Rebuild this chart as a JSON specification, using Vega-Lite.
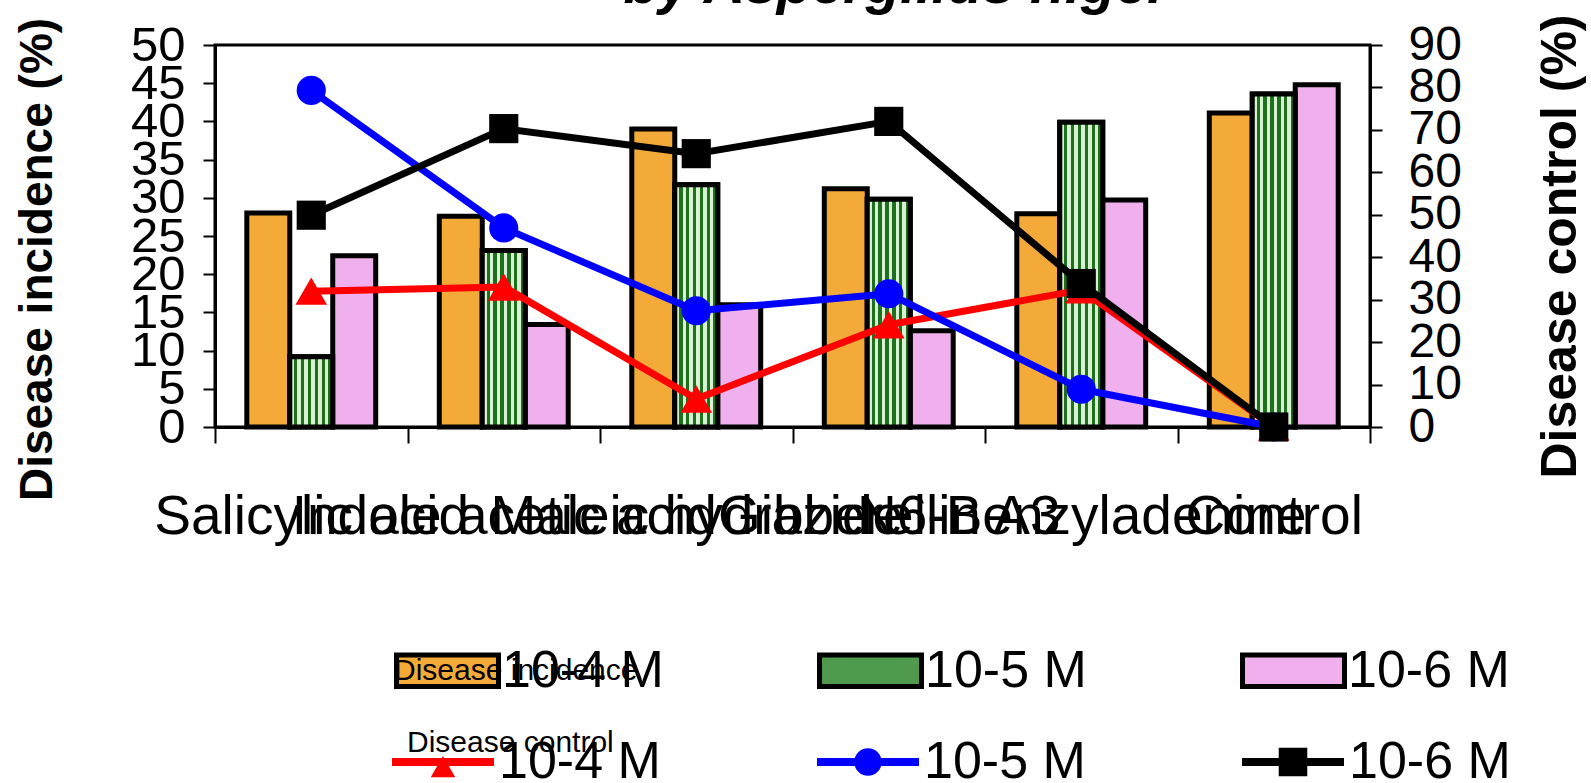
{
  "$schema": "https://vega.github.io/schema/vega-lite/v6.json",
  "autosize": {"type": "none"},
  "padding": {"left": 215, "top": 45, "right": 221, "bottom": 356},
  "width": 1155,
  "height": 382,
  "background": "white",
  "config": {
    "font": "Liberation Sans",
    "view": {"stroke": "black", "strokeWidth": 3},
    "axis": {"grid": false, "domainColor": "black", "domainWidth": 3, "tickColor": "black", "tickWidth": 2, "labelColor": "black", "titleColor": "black", "labelFont": "Liberation Sans", "titleFont": "Liberation Sans"},
    "legend": {"gridAlign": "each", "titleLimit": 0, "labelLimit": 0}
  },
  "title": {
    "text": "by Aspergillus niger",
    "fontSize": 57,
    "fontWeight": "bold",
    "fontStyle": "italic",
    "color": "black",
    "anchor": "middle",
    "frame": "group",
    "baseline": "alphabetic",
    "offset": 0,
    "dy": 46,
    "dx": 104
  },
  "datasets": {
    "bars": [
      {"cat": "Salicylic acid", "series": "10-4 M", "incidence": 28.0},
      {"cat": "Salicylic acid", "series": "10-5 M", "incidence": 9.2},
      {"cat": "Salicylic acid", "series": "10-6 M", "incidence": 22.4},
      {"cat": "Indole acetic acid", "series": "10-4 M", "incidence": 27.6},
      {"cat": "Indole acetic acid", "series": "10-5 M", "incidence": 23.1},
      {"cat": "Indole acetic acid", "series": "10-6 M", "incidence": 13.4},
      {"cat": "Maleic hydrazide", "series": "10-4 M", "incidence": 39.0},
      {"cat": "Maleic hydrazide", "series": "10-5 M", "incidence": 31.7},
      {"cat": "Maleic hydrazide", "series": "10-6 M", "incidence": 16.0},
      {"cat": "Gibberellin A3", "series": "10-4 M", "incidence": 31.2},
      {"cat": "Gibberellin A3", "series": "10-5 M", "incidence": 29.8},
      {"cat": "Gibberellin A3", "series": "10-6 M", "incidence": 12.6},
      {"cat": "N6-Benzyladenine", "series": "10-4 M", "incidence": 27.9},
      {"cat": "N6-Benzyladenine", "series": "10-5 M", "incidence": 39.9},
      {"cat": "N6-Benzyladenine", "series": "10-6 M", "incidence": 29.7},
      {"cat": "Control", "series": "10-4 M", "incidence": 41.1},
      {"cat": "Control", "series": "10-5 M", "incidence": 43.6},
      {"cat": "Control", "series": "10-6 M", "incidence": 44.8}
    ],
    "lines": [
      {"cat": "Salicylic acid", "dose": "10-4", "control": 32.0},
      {"cat": "Indole acetic acid", "dose": "10-4", "control": 33.0},
      {"cat": "Maleic hydrazide", "dose": "10-4", "control": 6.6},
      {"cat": "Gibberellin A3", "dose": "10-4", "control": 24.1},
      {"cat": "N6-Benzyladenine", "dose": "10-4", "control": 32.3},
      {"cat": "Control", "dose": "10-4", "control": 0},
      {"cat": "Salicylic acid", "dose": "10-5", "control": 79.3},
      {"cat": "Indole acetic acid", "dose": "10-5", "control": 46.9},
      {"cat": "Maleic hydrazide", "dose": "10-5", "control": 27.4},
      {"cat": "Gibberellin A3", "dose": "10-5", "control": 31.4},
      {"cat": "N6-Benzyladenine", "dose": "10-5", "control": 8.9},
      {"cat": "Control", "dose": "10-5", "control": 0},
      {"cat": "Salicylic acid", "dose": "10-6", "control": 49.9},
      {"cat": "Indole acetic acid", "dose": "10-6", "control": 70.3},
      {"cat": "Maleic hydrazide", "dose": "10-6", "control": 64.4},
      {"cat": "Gibberellin A3", "dose": "10-6", "control": 72.0},
      {"cat": "N6-Benzyladenine", "dose": "10-6", "control": 33.8},
      {"cat": "Control", "dose": "10-6", "control": 0}
    ]
  },
  "layer": [
    {
      "data": {"name": "bars"},
      "layer": [
        {
          "mark": {"type": "bar", "stroke": "black", "strokeWidth": 5, "strokeJoin": "miter"},
          "encoding": {
            "x": {
              "field": "cat", "type": "nominal",
              "scale": {"domain": ["Salicylic acid", "Indole acetic acid", "Maleic hydrazide", "Gibberellin A3", "N6-Benzyladenine", "Control"], "paddingInner": 0, "paddingOuter": 0},
              "axis": {"title": null, "labelAngle": 0, "labelFontSize": 55, "labelLimit": 0, "labelOverlap": false, "labelPadding": 47, "tickSize": 16, "tickBand": "extent", "labelFlush": false}
            },
            "xOffset": {"field": "series", "type": "nominal", "scale": {"domain": ["10-4 M", "10-5 M", "10-6 M"], "paddingInner": 0, "paddingOuter": 0.74}},
            "y": {
              "field": "incidence", "type": "quantitative",
              "scale": {"domain": [0, 50], "nice": false},
              "axis": {"orient": "left", "values": [0, 5, 10, 15, 20, 25, 30, 35, 40, 45, 50], "labelFontSize": 49, "labelOverlap": false, "labelFlush": false, "tickSize": 12, "labelPadding": 18, "title": "Disease incidence (%)", "titleFontSize": 46, "titleFontWeight": "bold", "titleAngle": -90, "titleX": -178, "titleY": 214, "titleAlign": "center", "titleBaseline": "middle"}
            },
            "fill": {
              "field": "series", "type": "nominal",
              "scale": {"domain": ["10-4 M", "10-5 M", "10-6 M"], "range": ["#F3AA38", "#4F9A4C", "#F0B0EE"]},
              "legend": {
                "title": "Disease incidence",
                "orient": "none", "legendX": 179, "legendY": 611,
                "direction": "horizontal", "columns": 3, "columnPadding": 145,
                "padding": 0,
                "symbolType": "M-1,-0.31H1V0.31H-1Z", "symbolSize": 10400,
                "symbolStrokeColor": "black", "symbolStrokeWidth": 5,
                "labelFontSize": 52, "labelColor": "black", "labelOffset": 1, "labelLimit": 0,
                "titleFontSize": 30, "titleFontWeight": "normal", "titleColor": "black", "titlePadding": -69, "titleAnchor": "start", "titleLimit": 0,
                "encode": {
                  "symbols": {"update": {
                    "stroke": {"value": "black"},
                    "strokeWidth": {"value": 5},
                    "size": {"value": 10400},
                    "shape": {"value": "M-1,-0.31H1V0.31H-1Z"},
                    "opacity": {"value": 1}
                  }}
                }
              }
            }
          }
        },
        {
          "transform": [{"filter": "datum.series === '10-5 M'"}],
          "mark": {
            "type": "bar", "stroke": "black", "strokeWidth": 5, "strokeJoin": "miter",
            "fill": {"gradient": "linear", "x1": 0, "y1": 0, "x2": 1, "y2": 0, "stops": [
              {"offset": 0, "color": "#d6f2d0"}, {"offset": 0.1, "color": "#d6f2d0"}, {"offset": 0.1, "color": "#1f6f1f"}, {"offset": 0.18, "color": "#1f6f1f"},
              {"offset": 0.18, "color": "#d6f2d0"}, {"offset": 0.26, "color": "#d6f2d0"}, {"offset": 0.26, "color": "#1f6f1f"}, {"offset": 0.34, "color": "#1f6f1f"},
              {"offset": 0.34, "color": "#d6f2d0"}, {"offset": 0.42, "color": "#d6f2d0"}, {"offset": 0.42, "color": "#1f6f1f"}, {"offset": 0.5, "color": "#1f6f1f"},
              {"offset": 0.5, "color": "#d6f2d0"}, {"offset": 0.58, "color": "#d6f2d0"}, {"offset": 0.58, "color": "#1f6f1f"}, {"offset": 0.66, "color": "#1f6f1f"},
              {"offset": 0.66, "color": "#d6f2d0"}, {"offset": 0.74, "color": "#d6f2d0"}, {"offset": 0.74, "color": "#1f6f1f"}, {"offset": 0.82, "color": "#1f6f1f"},
              {"offset": 0.82, "color": "#d6f2d0"}, {"offset": 0.9, "color": "#d6f2d0"}, {"offset": 0.9, "color": "#1f6f1f"}, {"offset": 1, "color": "#1f6f1f"}
            ]}
          },
          "encoding": {
            "x": {
              "field": "cat", "type": "nominal",
              "axis": {"title": null, "labelAngle": 0, "labelFontSize": 55, "labelLimit": 0, "labelOverlap": false, "labelPadding": 47, "tickSize": 16, "tickBand": "extent", "labelFlush": false}
            },
            "xOffset": {"field": "series", "type": "nominal"},
            "y": {
              "field": "incidence", "type": "quantitative",
              "axis": {"orient": "left", "values": [0, 5, 10, 15, 20, 25, 30, 35, 40, 45, 50], "labelFontSize": 49, "labelOverlap": false, "labelFlush": false, "tickSize": 12, "labelPadding": 18, "title": "Disease incidence (%)", "titleFontSize": 46, "titleFontWeight": "bold", "titleAngle": -90, "titleX": -178, "titleY": 214, "titleAlign": "center", "titleBaseline": "middle"}
            }
          }
        }
      ]
    },
    {
      "data": {"name": "lines"},
      "layer": [
        {
          "mark": {"type": "line", "strokeWidth": 7, "strokeJoin": "round", "strokeCap": "round"},
          "encoding": {
            "x": {"field": "cat", "type": "nominal"},
            "y": {
              "field": "control", "type": "quantitative",
              "scale": {"domain": [0, 90], "nice": false},
              "axis": {"orient": "right", "values": [0, 10, 20, 30, 40, 50, 60, 70, 80, 90], "labelFontSize": 48, "labelOverlap": false, "labelFlush": false, "tickSize": 12, "labelPadding": 26, "title": "Disease control (%)", "titleFontSize": 50, "titleFontWeight": "bold", "titleAngle": -90, "titleX": 190, "titleY": 201, "titleAlign": "center", "titleBaseline": "middle"}
            },
            "color": {
              "field": "dose", "type": "nominal",
              "scale": {"domain": ["10-4", "10-5", "10-6"], "range": ["#FF0000", "#0000FF", "#000000"]},
              "legend": {
                "title": "Disease control",
                "orient": "none", "legendX": 177, "legendY": 683,
                "direction": "horizontal", "columns": 3, "columnPadding": 156,
                "padding": 0,
                "symbolSize": 10400,
                "labelExpr": "datum.label + ' M'",
                "labelFontSize": 52, "labelColor": "black", "labelOffset": 5, "labelLimit": 0,
                "titleFontSize": 30, "titleFontWeight": "normal", "titleColor": "black", "titlePadding": -47, "titleAnchor": "start", "titleLimit": 0,
                "encode": {
                  "title": {"update": {"dx": {"value": 15}}},
                  "symbols": {"update": {
                    "shape": {"signal": "datum.value === '10-4' ? 'M-1,-0.08H1V0.08H-1Z M0,-0.12L0.24,0.3L-0.24,0.3Z' : datum.value === '10-5' ? 'M-1,-0.08H1V0.08H-1Z M-0.27,0A0.27,0.27 0 1,1 0.27,0A0.27,0.27 0 1,1 -0.27,0Z' : 'M-1,-0.08H1V0.08H-1Z M-0.28,-0.28H0.28V0.28H-0.28Z'"},
                    "fill": {"signal": "scale('color', datum.value)"},
                    "stroke": {"value": null},
                    "strokeWidth": {"value": 0},
                    "size": {"value": 10400},
                    "opacity": {"value": 1}
                  }}
                }
              }
            }
          }
        },
        {
          "transform": [{"filter": "datum.dose === '10-4'"}],
          "mark": {"type": "point", "shape": "triangle-up", "filled": true, "opacity": 1, "size": 1000, "strokeWidth": 0},
          "encoding": {
            "x": {"field": "cat", "type": "nominal"},
            "y": {"field": "control", "type": "quantitative"},
            "color": {"field": "dose", "type": "nominal"}
          }
        },
        {
          "transform": [{"filter": "datum.dose === '10-5'"}],
          "mark": {"type": "point", "shape": "circle", "filled": true, "opacity": 1, "size": 850, "strokeWidth": 0},
          "encoding": {
            "x": {"field": "cat", "type": "nominal"},
            "y": {"field": "control", "type": "quantitative"},
            "color": {"field": "dose", "type": "nominal"}
          }
        },
        {
          "transform": [{"filter": "datum.dose === '10-6'"}],
          "mark": {"type": "point", "shape": "square", "filled": true, "opacity": 1, "size": 850, "strokeWidth": 0},
          "encoding": {
            "x": {"field": "cat", "type": "nominal"},
            "y": {"field": "control", "type": "quantitative"},
            "color": {"field": "dose", "type": "nominal"}
          }
        }
      ]
    }
  ],
  "resolve": {"scale": {"y": "independent"}, "axis": {"y": "independent"}}
}
